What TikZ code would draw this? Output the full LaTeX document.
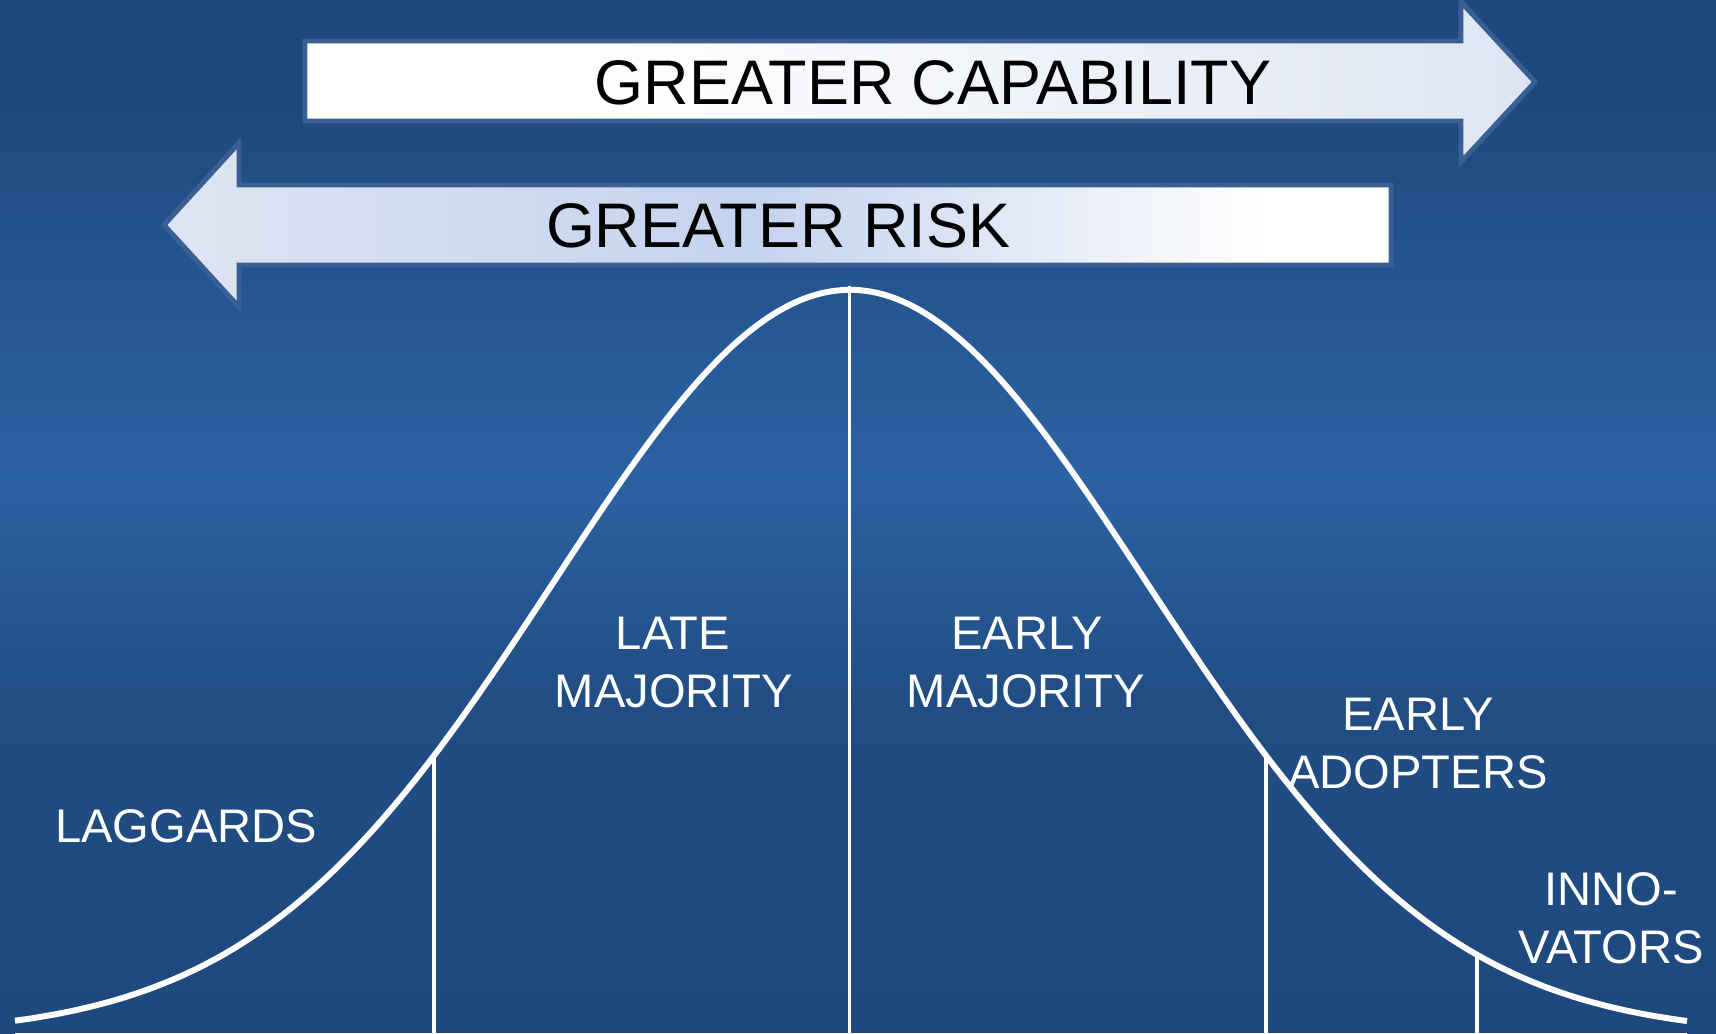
\documentclass[tikz,border=0pt]{standalone}
\usepackage{fontspec}
\setmainfont{Liberation Sans}

\definecolor{bgdark}{RGB}{31,73,125}
\definecolor{bgmid}{RGB}{43,98,164}
\definecolor{bglow}{RGB}{33,77,132}
\definecolor{arrowedge}{RGB}{58,95,148}
\definecolor{capend}{RGB}{222,229,242}
\definecolor{riskleft}{RGB}{222,229,243}
\definecolor{riskmid}{RGB}{196,211,238}

% background: dark at top and bottom, brighter band in the middle
\pgfdeclareverticalshading{skyshade}{100bp}{color(0bp)=(bgdark); color(25bp)=(bgdark); color(41bp)=(bglow); color(52bp)=(bgmid); color(70bp)=(bgdark); color(75bp)=(bgdark); color(100bp)=(bgdark)}
% arrow fills
\pgfdeclarehorizontalshading{capshade}{100bp}{color(0bp)=(white); color(25bp)=(white); color(36bp)=(white); color(75bp)=(capend); color(100bp)=(capend)}
\pgfdeclarehorizontalshading{riskshade}{100bp}{color(0bp)=(riskleft); color(25bp)=(riskleft); color(49bp)=(riskmid); color(70bp)=(white); color(100bp)=(white)}

\tikzset{
  bigarrow/.style={draw=arrowedge, line width=1.4pt},
  arrowtext/.style={font=\fontsize{17.9pt}{21pt}\selectfont, text=black, anchor=base, inner sep=0pt},
  grouptext/.style={font=\fontsize{13.4pt}{16pt}\selectfont, text=white, anchor=base, inner sep=0pt},
  bell/.style={white, line width=1.7pt},
  divider/.style={white, line width=1pt},
}

\begin{document}
\begin{tikzpicture}[x=0.01cm, y=-0.01cm]
\useasboundingbox (0,0) rectangle (1716,1034);
\shade[shading=skyshade] (0,0) rectangle (1716,1034);

% arrows
\shade[shading=capshade, bigarrow] (305,41) -- (1461,41) -- (1461,2) -- (1535,82)
  -- (1461,162) -- (1461,121) -- (305,121) -- cycle;
\shade[shading=riskshade, bigarrow] (1391,185) -- (239,185) -- (239,143) -- (164,225)
  -- (239,307) -- (239,265) -- (1391,265) -- cycle;
\node[arrowtext] (cap) at (933,105) {GREATER CAPABILITY};
\node[arrowtext] (risk) at (778,248) {GREATER RISK};

% normal curve: mean 850, sd 297, baseline 1035, peak 290
\draw[bell] plot[domain=15:1687, samples=300, smooth]
  (\x, {1035-745*exp(-0.5*((\x-850)/297)^2)});
\draw[divider] (15,1035) -- (1687,1035);
\draw[divider] (434,756) -- (434,1034);
\draw[divider, line width=0.85pt] (849,286) -- (849,1034);
\draw[divider] (1266,756) -- (1266,1034);
\draw[divider] (1477,955) -- (1477,1034);

% group labels
\node[grouptext] (lag) at (186,842) {LAGGARDS};
\node[grouptext] (late1) at (673,649) {LATE};
\node[grouptext] (late2) at (674,707) {MAJORITY};
\node[grouptext] (early1) at (1027,649) {EARLY};
\node[grouptext] (early2) at (1026,707) {MAJORITY};
\node[grouptext] (adopt1) at (1418,730) {EARLY};
\node[grouptext] (adopt2) at (1418,788) {ADOPTERS};
\node[grouptext] (innov1) at (1611,905) {INNO-};
\node[grouptext] (innov2) at (1611,963) {VATORS};
\end{tikzpicture}
\end{document}
